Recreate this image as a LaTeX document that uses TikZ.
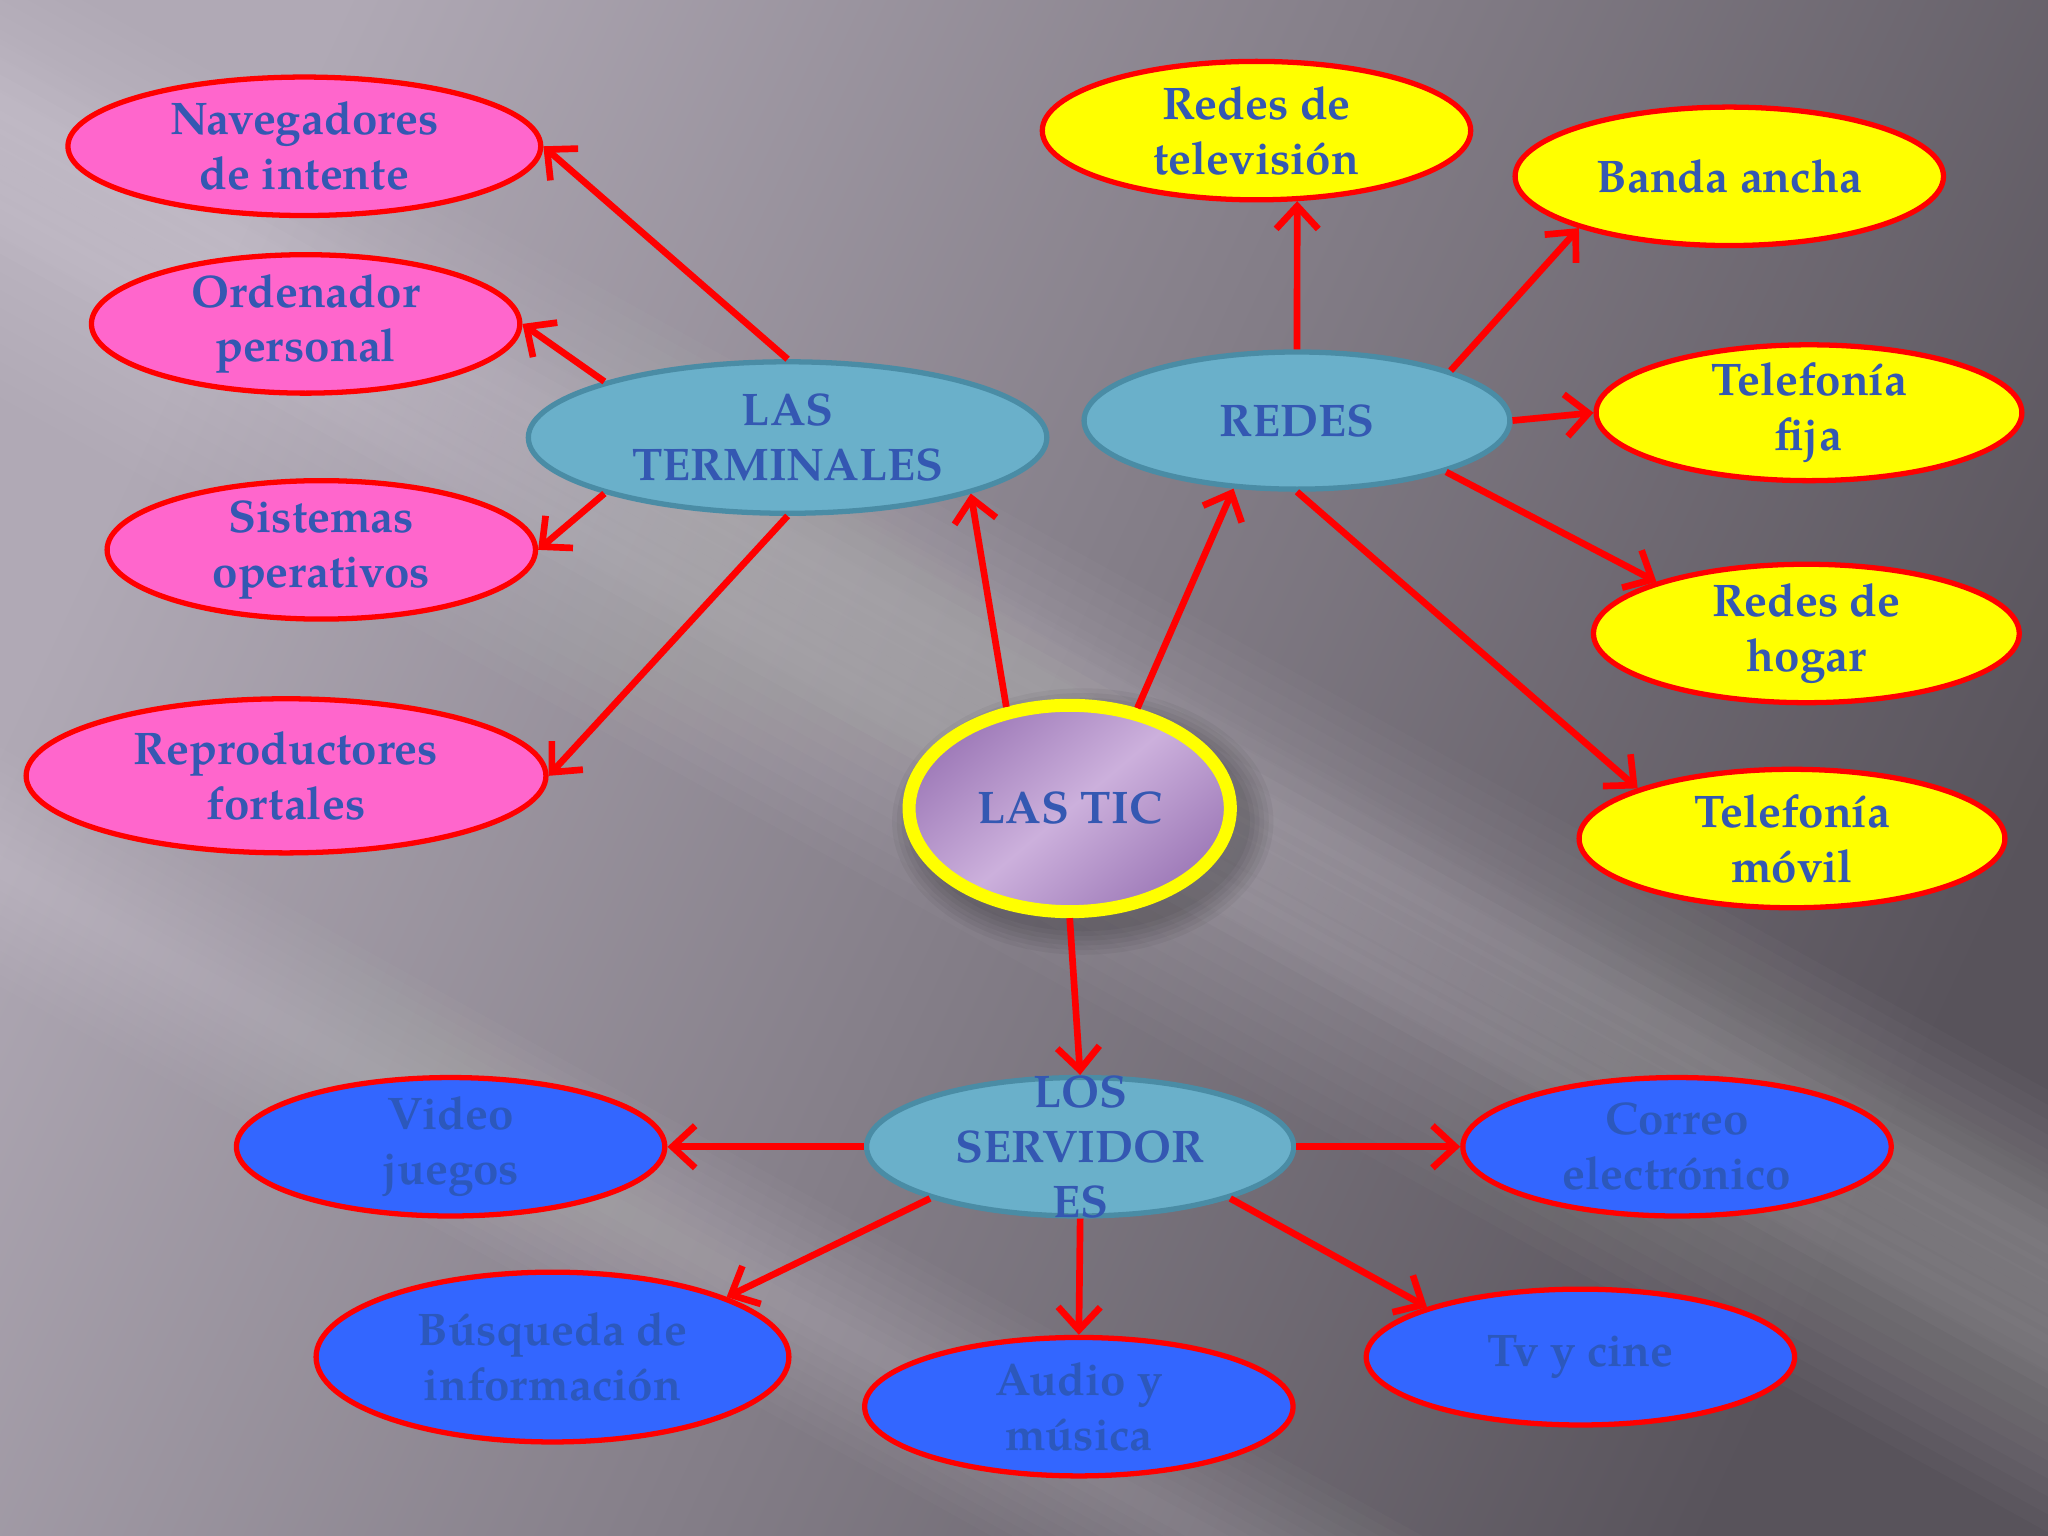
\documentclass[tikz,border=0pt]{standalone}
\usepackage{fontspec}
\setmainfont{texgyrepagella}[Extension=.otf, UprightFont=*-regular, BoldFont=*-bold, ItalicFont=*-italic, BoldItalicFont=*-bolditalic]
\usetikzlibrary{shapes.geometric, arrows.meta}
\definecolor{pinkf}{RGB}{255,102,204}
\definecolor{yel}{RGB}{255,255,0}
\definecolor{bluef}{RGB}{51,102,255}
\definecolor{tealf}{RGB}{106,176,202}
\definecolor{tealb}{RGB}{74,140,165}
\definecolor{txt}{RGB}{52,88,178}
\definecolor{txtdim}{RGB}{44,88,188}
\definecolor{ticL}{RGB}{204,176,220}
\definecolor{ticD}{RGB}{158,122,184}
\definecolor{bgA}{RGB}{176,169,181}
\definecolor{bgB}{RGB}{120,114,123}
\definecolor{bgC}{RGB}{88,83,91}
\begin{document}
\begin{tikzpicture}[x=0.01306cm, y=-0.01306cm,
  sz/.style 2 args={minimum width=#1*0.01306cm, minimum height=#2*0.01306cm},
  base/.style={ellipse, inner sep=0pt, line width=1.5pt},
  pinkn/.style={base, draw=red, fill=pinkf},
  yeln/.style={base, draw=red, fill=yel},
  bluen/.style={base, draw=red, fill=bluef},
  tealn/.style={base, draw=tealb, fill=tealf},
  lab/.style={text=txt, font=\fontsize{13}{15.6}\selectfont\bfseries, align=center, inner sep=0pt},
  dimlab/.style={lab, text=txtdim},
  arr/.style={draw=red, line width=1.9pt, -{Straight Barb[length=6.5pt, width=12pt]}},
]
\useasboundingbox (0,0) rectangle (1568,1176);
% background
\shade[top color=bgA, middle color=bgB, bottom color=bgC, shading angle=65] (0,0) rectangle (1568,1176);
\begin{scope}
  \clip (0,0) rectangle (1568,1176);
  \foreach \w in {10,20,...,100} {
    \begin{scope}[shift={(650,440)}, rotate=-29]
      \fill[white, fill opacity=0.02] (-3000,-\w) rectangle (3000,\w);
    \end{scope}
    \begin{scope}[shift={(300,830)}, rotate=-29]
      \fill[white, fill opacity=0.018] (-3000,-0.8*\w) rectangle (3000,0.8*\w);
    \end{scope}
    \begin{scope}[shift={(150,250)}, rotate=-29]
      \fill[white, fill opacity=0.018] (-3000,-1.2*\w) rectangle (3000,1.2*\w);
    \end{scope}
  }
  % soft shadow of the centre ellipse
  \foreach \s in {0,6,...,30} {
    \fill[black, fill opacity=0.045] (829,629) ellipse ({128+\s*0.6} and {84+\s*0.6});
  }
\end{scope}
% left group
\node[pinkn, sz={362}{106}] (nav) at (233,112) {};
\node[lab] (navt) at (nav) {Navegadores\\de intente};
\node[pinkn, sz={328}{106}] (ord) at (234,248) {};
\node[lab] (ordt) at (ord) {Ordenador\\personal};
\node[pinkn, sz={328}{106}] (sis) at (246,421) {};
\node[lab] (sist) at (sis) {Sistemas\\operativos};
\node[pinkn, sz={398}{118}] (rep) at (219,594) {};
\node[lab] (rept) at (rep) {Reproductores\\fortales};
\node[tealn, sz={397}{116}] (ter) at (603,335) {};
\node[lab] (tert) at (ter) {LAS\\TERMINALES};
% right group
\node[tealn, sz={326}{105}] (red) at (993,322) {};
\node[lab] (redt) at (red) {REDES};
\node[yeln, sz={328}{106}] (tv) at (962,100) {};
\node[lab] (tvt) at (tv) {Redes de\\televisi\'on};
\node[yeln, sz={328}{106}] (ban) at (1324,135) {};
\node[lab] (bant) at (ban) {Banda ancha};
\node[yeln, sz={326}{104}] (fij) at (1385,316) {};
\node[lab] (fijt) at (fij) {Telefon\'{\i}a\\fija};
\node[yeln, sz={326}{106}] (hog) at (1383,485) {};
\node[lab] (hogt) at (hog) {Redes de\\hogar};
\node[yeln, sz={326}{106}] (mov) at (1372,642) {};
\node[lab] (movt) at (mov) {Telefon\'{\i}a\\m\'ovil};
% center
\node[base, sz={246}{158}, draw=yel, line width=3.7pt, left color=ticD, right color=ticD, middle color=ticL, shading angle=40] (tic) at (819,619) {};
\node[lab] (tict) at (tic) {LAS TIC};
% bottom group
\node[tealn, sz={327}{106}] (ser) at (827,878) {};
\node[lab] (sert) at (ser) {LOS\\SERVIDOR\\ES};
\node[bluen, sz={328}{106}] (vid) at (345,878) {};
\node[dimlab] (vidt) at (vid) {Video\\juegos};
\node[bluen, sz={328}{106}] (cor) at (1284,878) {};
\node[dimlab] (cort) at (cor) {Correo\\electr\'onico};
\node[bluen, sz={362}{130}] (bus) at (423,1039) {};
\node[dimlab] (bust) at (bus) {B\'usqueda de\\informaci\'on};
\node[bluen, sz={328}{106}] (aud) at (826,1077) {};
\node[dimlab] (audt) at (aud) {Audio y\\m\'usica};
\node[bluen, sz={328}{104}] (tvc) at (1210,1039) {};
\node[dimlab] (tvct) at (tvc) {Tv y cine};
% connectors
\draw[arr] (ter.north) -- (nav.east);
\draw[arr] (ter.163) -- (ord.east);
\draw[arr] (ter.197) -- (sis.east);
\draw[arr] (ter.south) -- (rep.east);
\draw[arr] (tic.122) -- (ter.-17);
\draw[arr] (tic.56) -- (red.227);
\draw[arr] (red.north) -- (tv.-60);
\draw[arr] (red.18) -- (ban.199);
\draw[arr] (red.east) -- (fij.west);
\draw[arr] (red.-19) -- (hog.161);
\draw[arr] (red.south) -- (mov.162);
\draw[arr] (tic.south) -- (ser.north);
\draw[arr] (ser.west) -- (vid.east);
\draw[arr] (ser.east) -- (cor.west);
\draw[arr] (ser.199) -- (bus.19);
\draw[arr] (ser.south) -- (aud.north);
\draw[arr] (ser.-19) -- (tvc.162);
\end{tikzpicture}
\end{document}
